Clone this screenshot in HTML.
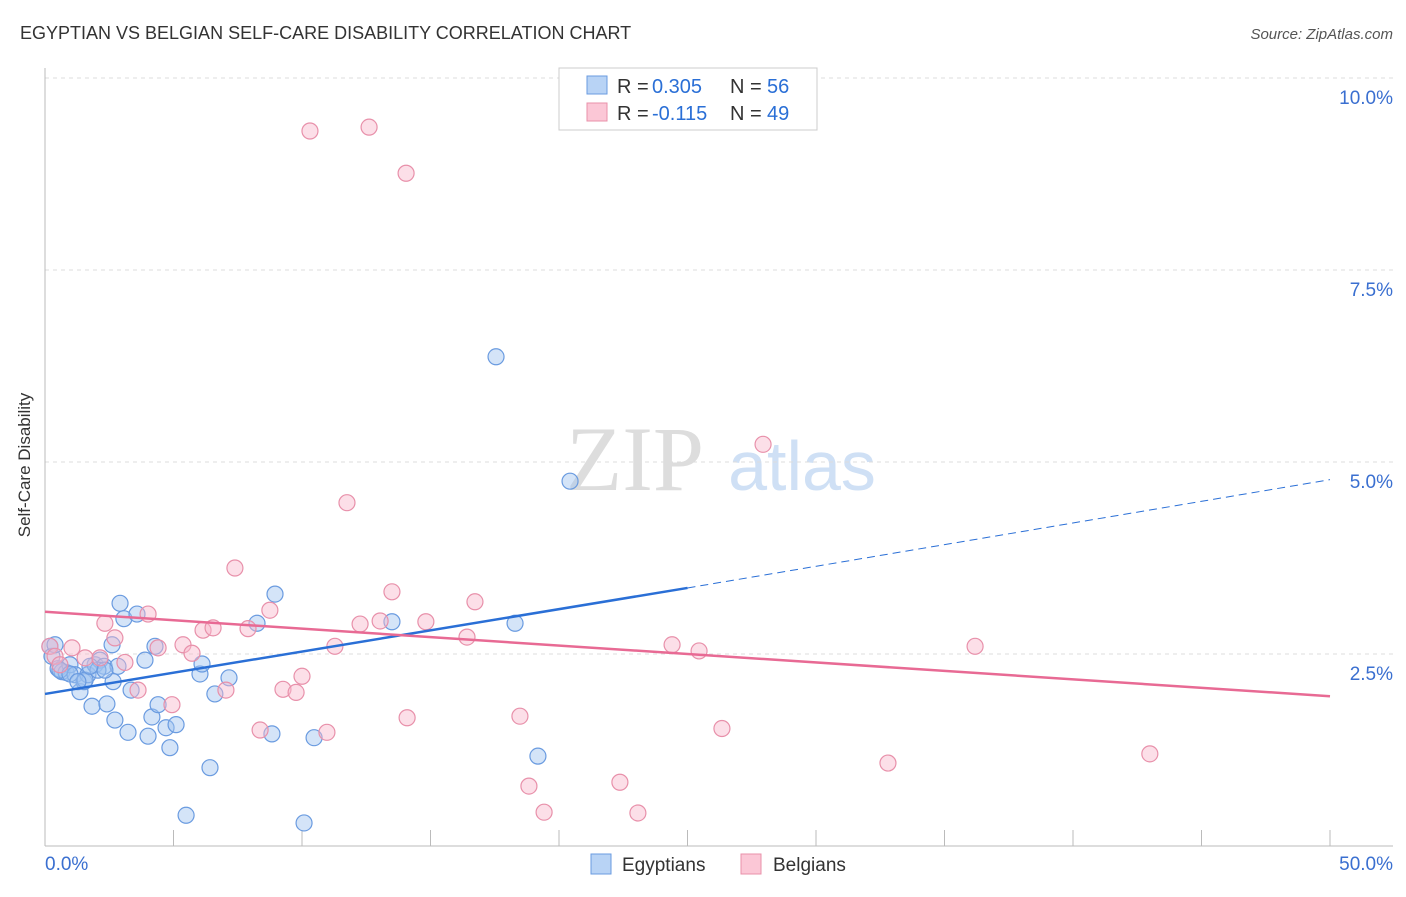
<!DOCTYPE html>
<html><head><meta charset="utf-8"><style>
body{margin:0;background:#fff;font-family:"Liberation Sans",sans-serif}
</style></head><body>
<svg id="c" width="1406" height="892" xmlns="http://www.w3.org/2000/svg" font-family="Liberation Sans, sans-serif">
<text x="20" y="39" font-size="18" fill="#333">EGYPTIAN VS BELGIAN SELF-CARE DISABILITY CORRELATION CHART</text>
<text x="1393" y="39" font-size="15" fill="#555" text-anchor="end" font-style="italic">Source: ZipAtlas.com</text>
<g>
<text x="635" y="490" font-size="92" fill="#ddd" font-family="Liberation Serif, serif" text-anchor="middle">ZIP</text>
<text x="802" y="490" font-size="70" fill="#cfe0f5" text-anchor="middle">atlas</text></g>
<g id="grid"></g><g id="axes"></g><g id="pts"></g><g id="lines"></g>
<text x="20" y="455" font-size="17" fill="#333" transform="rotate(-90 30 455)" text-anchor="middle">Self-Care Disability</text>
<g>
<rect x="559" y="68" width="258" height="62" fill="#fff" stroke="#ccc"/>
<rect x="587" y="76" width="20" height="18" fill="#b8d3f5" stroke="#6a9be0"/>
<rect x="587" y="103" width="20" height="18" fill="#fbc7d6" stroke="#e890aa"/>
<text x="617" y="93" font-size="20" fill="#333">R =</text>
<text x="652" y="93" font-size="20" fill="#2a6fd6">0.305</text>
<text x="730" y="93" font-size="20" fill="#333">N =</text>
<text x="767" y="93" font-size="20" fill="#2a6fd6">56</text>
<text x="617" y="120" font-size="20" fill="#333">R =</text>
<text x="652" y="120" font-size="20" fill="#2a6fd6">-0.115</text>
<text x="730" y="120" font-size="20" fill="#333">N =</text>
<text x="767" y="120" font-size="20" fill="#2a6fd6">49</text>
</g>
<g>
<rect x="591" y="854" width="20" height="20" fill="#b8d3f5" stroke="#6a9be0"/>
<text x="622" y="871" font-size="19" fill="#333">Egyptians</text>
<rect x="741" y="854" width="20" height="20" fill="#fbc7d6" stroke="#e890aa"/>
<text x="773" y="871" font-size="19" fill="#333">Belgians</text></g>
</svg>
<script>
const yTicks=[2.5,5.0,7.5,10.0];
const yTickLabels=["2.5%","5.0%","7.5%","10.0%"];
const xTickLabels=["0.0%","50.0%"];
const blueX=[0.19,0.27,0.39,0.51,0.66,0.82,0.97,1.17,1.36,1.52,1.67,1.83,1.95,2.14,2.30,2.41,2.61,2.65,2.72,2.84,2.92,3.07,3.23,3.35,3.58,3.89,4.01,4.16,4.28,4.40,4.71,4.86,5.10,5.49,6.03,6.11,6.42,6.61,7.16,8.25,8.83,8.95,10.08,10.47,13.50,17.55,18.29,19.18,20.43,0.58,0.97,1.56,2.06,2.33,1.75,1.28];
const blueY=[2.60,2.47,2.62,2.31,2.27,2.26,2.36,2.23,2.01,2.14,2.23,1.82,2.36,2.42,2.34,1.85,2.62,2.14,1.64,2.34,3.16,2.96,1.48,2.03,3.02,2.42,1.43,1.68,2.60,1.84,1.54,1.28,1.58,0.40,2.24,2.37,1.02,1.98,2.19,2.90,1.46,3.28,0.30,1.41,2.92,6.37,2.90,1.17,4.75,2.29,2.24,2.16,2.29,2.29,2.34,2.14];
const pinkX=[0.19,0.39,0.58,1.05,1.56,2.14,2.33,2.72,3.11,3.62,4.01,4.40,4.94,5.37,5.72,6.15,6.54,7.04,7.39,7.90,8.37,8.75,9.26,9.77,10.00,10.31,10.97,11.28,11.75,12.26,12.61,13.04,13.50,14.05,14.09,14.82,16.42,16.73,18.48,18.83,19.42,22.37,23.07,24.40,25.45,26.34,27.94,32.80,36.19,42.99];
const pinkY=[2.60,2.47,2.36,2.58,2.45,2.45,2.90,2.71,2.39,2.03,3.02,2.58,1.84,2.62,2.51,2.81,2.84,2.03,3.62,2.83,1.51,3.07,2.04,2.00,2.21,9.31,1.48,2.60,4.47,2.89,9.36,2.93,3.31,8.76,1.67,2.92,2.72,3.18,1.69,0.78,0.44,0.83,0.43,2.62,2.54,1.53,5.23,1.08,2.60,1.20];
const blueTrend=[[0,1.98],[25,3.36],[50,4.77]];
const pinkTrend=[[0,3.05],[50,1.95]];
const sx=v=>45+v*25.7, sy=v=>846-v*76.8;
const NS="http://www.w3.org/2000/svg";
function mk(p,t,a){const e=document.createElementNS(NS,t);for(const k in a)e.setAttribute(k,a[k]);document.getElementById(p).appendChild(e);return e;}
yTicks.forEach((t,i)=>{
 const l=mk('grid','line',{x1:45,x2:1393,y1:sy(t),y2:sy(t),stroke:'#ddd','stroke-dasharray':'4 4'});
 
 
 const tx=mk('axes','text',{x:1393,y:sy(t)+26,'font-size':19,fill:'#3a6fd0','text-anchor':'end'});tx.textContent=yTickLabels[i];
 
 
});
const ax=mk('axes','line',{x1:45,x2:1393,y1:846,y2:846,stroke:'#bbb'});


const ay=mk('axes','line',{x1:45,x2:45,y1:68,y2:846,stroke:'#bbb'});


for(let i=0;i<=10;i++){const t=mk('axes','line',{x1:sx(i*5),x2:sx(i*5),y1:830,y2:846,stroke:'#bbb'});
 
 }
[[0,45,'start'],[1,1393,'end']].forEach(([i,x,a])=>{const t=mk('axes','text',{x:x,y:870,'font-size':19,fill:'#3a6fd0','text-anchor':a});t.textContent=xTickLabels[i];
 
 });
blueX.forEach((x,i)=>{const c=mk('pts','circle',{cx:sx(x),cy:sy(blueY[i]),r:8,fill:'rgba(160,195,240,0.45)',stroke:'#6a9be0','stroke-width':1.2});
 
 });
pinkX.forEach((x,i)=>{const c=mk('pts','circle',{cx:sx(x),cy:sy(pinkY[i]),r:8,fill:'rgba(248,184,204,0.45)',stroke:'#e890aa','stroke-width':1.2});
 
 });
const b1=mk('lines','line',{x1:sx(blueTrend[0][0]),y1:sy(blueTrend[0][1]),x2:sx(blueTrend[1][0]),y2:sy(blueTrend[1][1]),stroke:'#2a6fd6','stroke-width':2.5});


const b2=mk('lines','line',{x1:sx(blueTrend[1][0]),y1:sy(blueTrend[1][1]),x2:sx(blueTrend[2][0]),y2:sy(blueTrend[2][1]),stroke:'#2a6fd6','stroke-width':1,'stroke-dasharray':'8 5'});


const p1=mk('lines','line',{x1:sx(pinkTrend[0][0]),y1:sy(pinkTrend[0][1]),x2:sx(pinkTrend[1][0]),y2:sy(pinkTrend[1][1]),stroke:'#e86a94','stroke-width':2.5});


</script>
</body></html>
